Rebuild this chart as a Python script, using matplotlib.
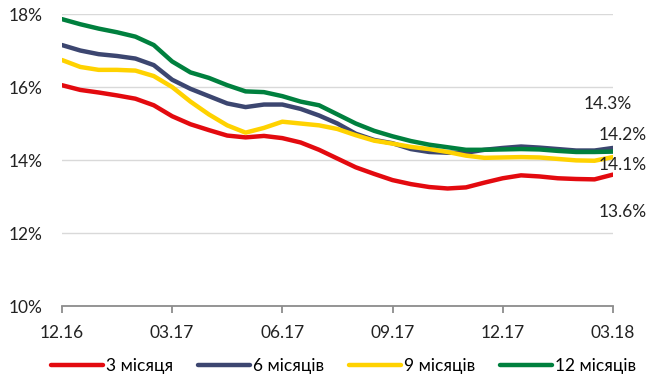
import numpy as np
import matplotlib.pyplot as plt
from matplotlib.ticker import FuncFormatter

# місяці від 12.16, крок півмісяця
months = np.arange(0, 15.5, 0.5)

rate_3m = [16.05, 15.92, 15.85, 15.77, 15.68, 15.50, 15.20, 14.98, 14.82, 14.67, 14.62,
           14.66, 14.60, 14.48, 14.28, 14.04, 13.80, 13.62, 13.45, 13.34, 13.26,
           13.22, 13.25, 13.38, 13.50, 13.58, 13.55, 13.50, 13.48, 13.47, 13.60]
rate_6m = [17.15, 17.00, 16.90, 16.85, 16.78, 16.60, 16.20, 15.95, 15.75, 15.55, 15.45,
           15.52, 15.52, 15.40, 15.22, 15.00, 14.72, 14.55, 14.46, 14.30, 14.22,
           14.20, 14.20, 14.28, 14.33, 14.37, 14.34, 14.30, 14.26, 14.26, 14.33]
rate_9m = [16.74, 16.55, 16.47, 16.47, 16.45, 16.30, 16.00, 15.60, 15.25, 14.95, 14.75,
           14.88, 15.05, 15.00, 14.95, 14.85, 14.68, 14.53, 14.45, 14.36, 14.30,
           14.22, 14.12, 14.06, 14.07, 14.08, 14.07, 14.03, 13.99, 13.98, 14.08]
rate_12m = [17.86, 17.72, 17.60, 17.50, 17.38, 17.15, 16.70, 16.40, 16.25, 16.05, 15.88,
            15.86, 15.75, 15.60, 15.50, 15.25, 15.00, 14.80, 14.65, 14.52, 14.42,
            14.35, 14.28, 14.28, 14.29, 14.30, 14.29, 14.25, 14.22, 14.22, 14.23]

tick_pos = [0, 3, 6, 9, 12, 15]
tick_labels = ['12.16', '03.17', '06.17', '09.17', '12.17', '03.18']
series_names = ['3 місяця', '6 місяців', '9 місяців', '12 місяців']
colors = ['#E30A0F', '#3C4670', '#FFD200', '#00803E']

plt.rcParams['font.family'] = ['Lato', 'DejaVu Sans']
plt.rcParams['font.size'] = 12.5

fig = plt.figure(figsize=(6.52, 3.83), dpi=100)
ax = fig.add_axes([0.095, 0.201, 0.845, 0.7624])

all_series = [rate_3m, rate_6m, rate_9m, rate_12m]
for vals, name, c in zip(all_series, series_names, colors):
    ax.plot(months, vals, color=c, lw=3.2, label=name, solid_capstyle='round')

# підписи останніх значень
offsets = [(7, -27), (-4, 32), (7, -6), (7, 12)]
for vals, off in zip(all_series, offsets):
    ax.annotate(f'{vals[-1]:.1f}%', (months[-1], vals[-1]), xytext=off,
                textcoords='offset points', ha='center', va='center', color='#222222')

ax.set_xlim(0, 15)
ax.set_ylim(10, 18)
ax.set_yticks([10, 12, 14, 16, 18])
ax.yaxis.set_major_formatter(FuncFormatter(lambda v, p: f'{v:.0f}%'))
ax.set_xticks(tick_pos)
ax.set_xticklabels(tick_labels)
ax.grid(axis='y', color='#D9D9D9', lw=1)
ax.set_axisbelow(True)
for s in ['top', 'right', 'left']:
    ax.spines[s].set_visible(False)
ax.spines['bottom'].set_color('#8C8C8C')
ax.spines['bottom'].set_linewidth(1.3)
ax.tick_params(axis='y', length=0, pad=14, colors='#222222')
ax.tick_params(axis='x', length=5, width=1.3, color='#8C8C8C', pad=9, labelcolor='#222222')

fig.legend(loc='center', bbox_to_anchor=(0.527, 0.045), ncol=4, frameon=False,
           handlelength=3.0, handletextpad=0.2, columnspacing=1.4)

fig.savefig('out.png', dpi=100)
